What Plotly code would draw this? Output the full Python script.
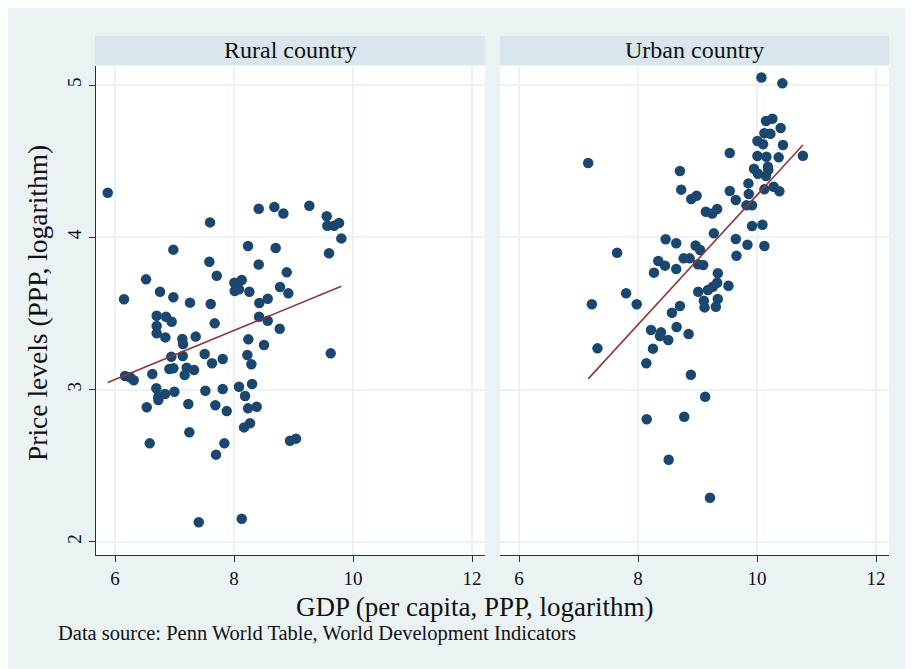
import numpy as np
import plotly.graph_objects as go

panel_titles = ["Rural country", "Urban country"]
x_ticks = [6, 8, 10, 12]
y_ticks = [2, 3, 4, 5]

rural_gdp = [5.877, 8.415, 8.677, 8.830, 7.597, 6.980, 8.235, 8.700, 7.585, 8.415,
             7.709, 8.886, 6.521, 8.005, 8.129, 8.011, 8.084, 8.258, 8.773, 8.913,
             6.756, 6.980, 6.151, 7.260, 7.608, 8.425, 8.566, 6.700, 6.857, 6.952,
             6.700, 6.700, 6.846, 7.675, 8.420, 8.566, 8.768, 7.131, 7.143, 7.356,
             8.240, 8.504, 6.946, 7.138, 7.507, 7.630, 7.810, 8.224, 8.291, 6.168,
             6.252, 6.314, 6.627, 6.913, 6.980, 7.205, 7.171, 7.328, 6.694, 6.728,
             6.728, 6.840, 6.997, 6.533, 7.232, 7.518, 7.810, 7.686, 7.877, 8.084,
             8.303, 8.185, 8.235, 8.381, 8.168, 8.269, 7.249, 6.583, 7.837, 7.697,
             7.407, 8.129, 8.941, 9.042, 9.625, 9.266, 9.558, 9.568, 9.680, 9.765,
             9.804, 9.597]
rural_price = [4.293, 4.188, 4.199, 4.157, 4.098, 3.919, 3.943, 3.930, 3.840, 3.822,
               3.748, 3.770, 3.724, 3.702, 3.720, 3.647, 3.659, 3.643, 3.674, 3.632,
               3.643, 3.606, 3.593, 3.571, 3.562, 3.569, 3.597, 3.485, 3.479, 3.446,
               3.418, 3.370, 3.343, 3.435, 3.479, 3.452, 3.400, 3.332, 3.299, 3.348,
               3.330, 3.293, 3.216, 3.221, 3.234, 3.173, 3.201, 3.227, 3.166, 3.089,
               3.081, 3.061, 3.102, 3.135, 3.140, 3.144, 3.096, 3.129, 3.009, 2.953,
               2.932, 2.971, 2.986, 2.884, 2.905, 2.993, 3.004, 2.897, 2.859, 3.019,
               3.037, 2.958, 2.877, 2.888, 2.752, 2.779, 2.720, 2.647, 2.647, 2.573,
               2.129, 2.152, 2.664, 2.678, 3.238, 4.207, 4.138, 4.076, 4.076, 4.094,
               3.993, 3.895]

urban_gdp = [7.162, 9.542, 8.704, 8.726, 8.894, 8.984, 9.542, 9.643, 9.140, 9.246,
             9.330, 9.274, 8.464, 8.642, 8.967, 9.044, 9.643, 9.654, 7.648, 8.340,
             8.453, 8.766, 8.867, 9.006, 9.095, 8.268, 8.642, 9.341, 9.520, 9.011,
             9.174, 9.257, 9.330, 7.799, 7.978, 7.224, 8.704, 8.570, 9.106, 9.341,
             9.118, 9.308, 7.318, 8.218, 8.386, 8.369, 8.508, 8.649, 8.850, 8.251,
             8.139, 8.888, 9.128, 8.146, 8.776, 8.515, 9.209, 10.074, 10.426, 10.151,
             10.258, 10.124, 10.225, 10.397, 10.007, 10.102, 10.436, 10.007, 10.158, 10.364,
             10.771, 10.183, 9.949, 10.016, 10.151, 10.190, 9.855, 10.280, 10.376, 10.124,
             9.861, 9.822, 9.916, 9.916, 10.091, 9.839, 10.124]
urban_price = [4.488, 4.554, 4.435, 4.313, 4.251, 4.273, 4.304, 4.245, 4.168, 4.157,
               4.186, 4.026, 3.987, 3.961, 3.946, 3.917, 3.989, 3.879, 3.899, 3.844,
               3.814, 3.862, 3.862, 3.823, 3.818, 3.768, 3.792, 3.764, 3.682, 3.643,
               3.654, 3.676, 3.702, 3.632, 3.560, 3.560, 3.549, 3.505, 3.584, 3.595,
               3.540, 3.544, 3.271, 3.391, 3.376, 3.352, 3.326, 3.411, 3.365, 3.269,
               3.173, 3.098, 2.953, 2.805, 2.822, 2.540, 2.290, 5.050, 5.011, 4.764,
               4.779, 4.683, 4.680, 4.718, 4.632, 4.611, 4.606, 4.534, 4.529, 4.525,
               4.536, 4.464, 4.450, 4.418, 4.402, 4.442, 4.354, 4.332, 4.302, 4.315,
               4.284, 4.210, 4.210, 4.074, 4.083, 3.951, 3.943]

# the page body keeps an 8px margin, so the figure is sized to fit the window
OFF = 8
W, H = 913 - OFF, 669 - OFF
BG = "#eaf2f3"
STRIP = "#d9e6eb"
NAVY = "#1a476f"
MAROON = "#90353b"
FONT = "Liberation Serif"
TXT = "#111111"

def px(v):
    return (v - OFF) / W

def py(v):
    return 1 - (v - OFF) / H

fig = go.Figure()
series = [(rural_gdp, rural_price, "x", "y"), (urban_gdp, urban_price, "x2", "y2")]
for gx, gy, xa, ya in series:
    fig.add_trace(go.Scatter(x=gx, y=gy, mode="markers", xaxis=xa, yaxis=ya,
                             marker=dict(color=NAVY, size=10.5, line=dict(width=0)),
                             showlegend=False, hoverinfo="x+y"))
    b, a = np.polyfit(np.array(gx), np.array(gy), 1)
    xs = np.array([min(gx), max(gx)])
    fig.add_trace(go.Scatter(x=xs, y=a + b * xs, mode="lines", xaxis=xa, yaxis=ya,
                             line=dict(color=MAROON, width=1.6),
                             showlegend=False, hoverinfo="skip"))

xr = [5.68, 12.218]
yr = [1.914, 5.125]
ydom = [py(555), py(66)]
common_x = dict(range=xr, tickvals=x_ticks, showgrid=True, gridcolor=BG, gridwidth=1.5,
                zeroline=False, showline=True, linecolor="#333333", linewidth=1.2,
                ticks="outside", ticklen=6, tickcolor="#333333",
                tickfont=dict(family=FONT, size=19, color=TXT))
fig.update_layout(
    width=W, height=H,
    margin=dict(l=0, r=0, t=0, b=0, autoexpand=False),
    paper_bgcolor=BG, plot_bgcolor="white",
    font=dict(family=FONT, color=TXT),
    xaxis=dict(domain=[px(96), px(485)], anchor="y", **common_x),
    xaxis2=dict(domain=[px(500), px(889)], anchor="y2", **common_x),
    yaxis=dict(domain=ydom, range=yr, tickvals=y_ticks, tickangle=-90, anchor="x",
               showgrid=True, gridcolor=BG, gridwidth=1.5, zeroline=False,
               showline=True, linecolor="#333333", linewidth=1.2,
               ticks="outside", ticklen=6, tickcolor="#333333",
               tickfont=dict(family=FONT, size=19, color=TXT)),
    yaxis2=dict(domain=ydom, range=yr, tickvals=y_ticks, anchor="x2", matches="y",
                showgrid=True, gridcolor=BG, gridwidth=1.5, zeroline=False,
                showline=False, showticklabels=False, ticks=""),
)

shapes = [
    dict(type="rect", xref="paper", yref="paper", x0=px(95), x1=px(485), y0=py(65), y1=py(36),
         fillcolor=STRIP, line=dict(width=0), layer="below"),
    dict(type="rect", xref="paper", yref="paper", x0=px(500), x1=px(889), y0=py(65), y1=py(36),
         fillcolor=STRIP, line=dict(width=0), layer="below"),
]
fig.update_layout(shapes=shapes)

def label(text, x, y, size, xanchor="center", angle=0):
    return dict(text=text, x=px(x), y=py(y), xref="paper", yref="paper",
                xanchor=xanchor, yanchor="middle", textangle=angle, showarrow=False,
                font=dict(family=FONT, size=size, color=TXT))

annotations = [
    label(panel_titles[0], 290, 50.5, 24),
    label(panel_titles[1], 694.5, 50.5, 24),
    label("Price levels (PPP, logarithm)", 38, 303, 27.5, angle=-90),
    label("GDP (per capita, PPP, logarithm)", 474, 607, 27),
    label("Data source: Penn World Table, World Development Indicators", 56, 633, 20.5,
          xanchor="left"),
]
fig.update_layout(annotations=annotations)

fig.write_html("out.html")
